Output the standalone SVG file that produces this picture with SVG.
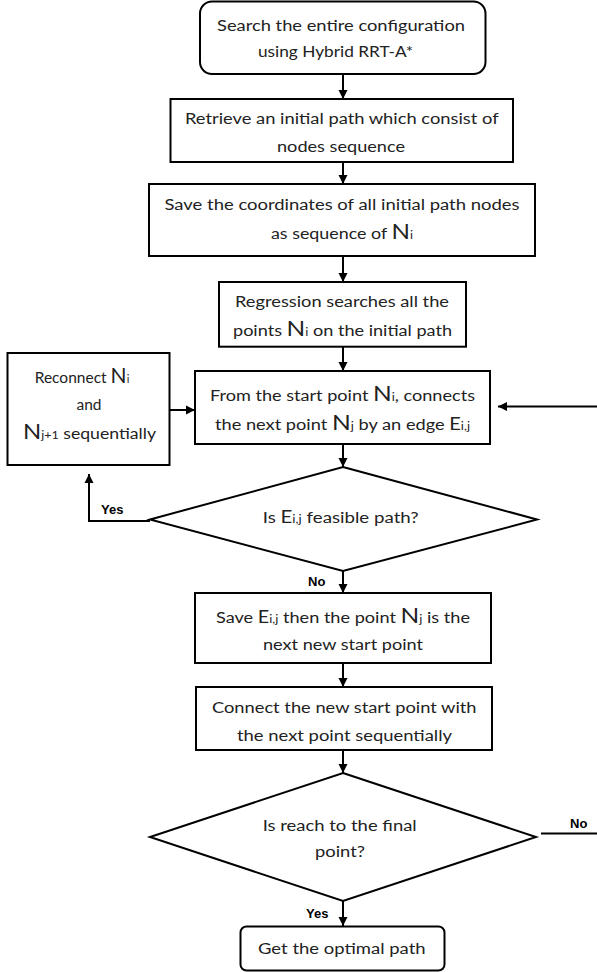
<svg xmlns="http://www.w3.org/2000/svg" width="597" height="972" viewBox="0 0 597 972">
<defs>
<marker id="ah" markerWidth="10" markerHeight="10" refX="9" refY="5" orient="auto" markerUnits="userSpaceOnUse">
<path d="M0,0.5 L9,5 L0,9.5 Z" fill="#000"/>
</marker>
<style>
.box{fill:#fff;stroke:#000;stroke-width:2}
.t{font-family:Lato,"Liberation Sans",sans-serif;font-size:15.5px;fill:#222;text-anchor:middle}
.lb{font-family:"Liberation Sans",Arial,sans-serif;font-size:13px;font-weight:bold;fill:#000}
.big{font-size:21px}
.sub{font-size:11px}
.e{font-size:17px}
.c{fill:none;stroke:#000;stroke-width:2}
</style>
</defs>
<rect width="597" height="972" fill="#fff"/>
<g id="connectors">
<line class="c" x1="343" y1="74" x2="343" y2="99" marker-end="url(#ah)"/>
<line class="c" x1="343" y1="162" x2="343" y2="184" marker-end="url(#ah)"/>
<line class="c" x1="343" y1="256" x2="343" y2="282" marker-end="url(#ah)"/>
<line class="c" x1="343" y1="347" x2="343" y2="371" marker-end="url(#ah)"/>
<line class="c" x1="170" y1="410" x2="195" y2="410" marker-end="url(#ah)"/>
<line class="c" x1="597" y1="406.5" x2="498" y2="406.5" marker-end="url(#ah)"/>
<line class="c" x1="343" y1="444" x2="343" y2="467" marker-end="url(#ah)"/>
<polyline class="c" points="150,521 89,521 89,474" marker-end="url(#ah)"/>
<line class="c" x1="343" y1="571" x2="343" y2="593" marker-end="url(#ah)"/>
<line class="c" x1="343" y1="663" x2="343" y2="687" marker-end="url(#ah)"/>
<line class="c" x1="343" y1="750" x2="343" y2="773" marker-end="url(#ah)"/>
<line class="c" x1="541" y1="833.5" x2="597" y2="833.5"/>
<line class="c" x1="343" y1="901" x2="343" y2="926" marker-end="url(#ah)"/>
<text class="lb" x="101" y="514">Yes</text>
<text class="lb" x="308" y="586">No</text>
<text class="lb" x="570" y="828">No</text>
<text class="lb" x="306" y="918">Yes</text>
</g>
<g id="n1">
<rect class="box" x="200" y="1.5" width="285.5" height="72.5" rx="12"/>
<text class="t" x="341" y="30.7" textLength="248" lengthAdjust="spacingAndGlyphs">Search the entire configuration</text>
<text class="t" x="335.5" y="57" textLength="155" lengthAdjust="spacingAndGlyphs">using Hybrid RRT-A*</text>
</g>
<g id="n2">
<rect class="box" x="170.5" y="99" width="342.5" height="63"/>
<text class="t" x="341.8" y="124" textLength="313.7" lengthAdjust="spacingAndGlyphs">Retrieve an initial path which consist of</text>
<text class="t" x="341" y="151.7" textLength="128" lengthAdjust="spacingAndGlyphs">nodes sequence</text>
</g>
<g id="n3">
<rect class="box" x="149" y="184" width="386" height="72"/>
<text class="t" x="342" y="210" textLength="355" lengthAdjust="spacingAndGlyphs">Save the coordinates of all initial path nodes</text>
<text class="t" x="342" y="239" textLength="142" lengthAdjust="spacingAndGlyphs">as sequence of <tspan class="big">N</tspan><tspan class="sub">i</tspan></text>
</g>
<g id="n4">
<rect class="box" x="219" y="282" width="247" height="64.7"/>
<text class="t" x="342" y="307" textLength="214" lengthAdjust="spacingAndGlyphs">Regression searches all the</text>
<text class="t" x="342.5" y="336" textLength="219" lengthAdjust="spacingAndGlyphs">points <tspan class="big">N</tspan><tspan class="sub">i</tspan> on the initial path</text>
</g>
<g id="n5">
<rect class="box" x="195" y="371" width="295" height="73"/>
<text class="t" x="342.5" y="400.7" textLength="265" lengthAdjust="spacingAndGlyphs">From the start point <tspan class="big">N</tspan><tspan class="sub">i</tspan>, connects</text>
<text class="t" x="342.5" y="430" textLength="255" lengthAdjust="spacingAndGlyphs">the next point <tspan class="big">N</tspan><tspan class="sub">j</tspan> by an edge <tspan class="e">E</tspan><tspan class="sub">i,j</tspan></text>
</g>
<g id="n6">
<rect class="box" x="7.5" y="353" width="162" height="112"/>
<text class="t" x="82" y="383.3">Reconnect <tspan class="big">N</tspan><tspan class="sub">i</tspan></text>
<text class="t" x="89" y="410">and</text>
<text class="t" x="89.5" y="439" textLength="133" lengthAdjust="spacingAndGlyphs"><tspan class="big">N</tspan><tspan class="sub">j+1</tspan> sequentially</text>
</g>
<g id="n7">
<polygon class="box" points="343,467 537,519.5 343,571 150,519.5"/>
<text class="t" x="340.7" y="522.7" textLength="156" lengthAdjust="spacingAndGlyphs">Is <tspan class="e">E</tspan><tspan class="sub">i,j</tspan> feasible path?</text>
</g>
<g id="n8">
<rect class="box" x="195" y="593" width="296" height="70"/>
<text class="t" x="343" y="622.7" textLength="254" lengthAdjust="spacingAndGlyphs">Save <tspan class="e">E</tspan><tspan class="sub">i,j</tspan> then the point <tspan class="big">N</tspan><tspan class="sub">j</tspan> is the</text>
<text class="t" x="343" y="650" textLength="160" lengthAdjust="spacingAndGlyphs">next new start point</text>
</g>
<g id="n9">
<rect class="box" x="196" y="687" width="296" height="63"/>
<text class="t" x="344.3" y="713" textLength="264.6" lengthAdjust="spacingAndGlyphs">Connect the new start point with</text>
<text class="t" x="344.5" y="740.7" textLength="215" lengthAdjust="spacingAndGlyphs">the next point sequentially</text>
</g>
<g id="n10">
<polygon class="box" points="343,773 536,837 343,901 150,837"/>
<text class="t" x="339.7" y="830.7" textLength="154" lengthAdjust="spacingAndGlyphs">Is reach to the final</text>
<text class="t" x="340" y="857" textLength="50" lengthAdjust="spacingAndGlyphs">point?</text>
</g>
<g id="n11">
<rect class="box" x="240.5" y="926.5" width="204" height="44" rx="6"/>
<text class="t" x="341.8" y="954" textLength="167.6" lengthAdjust="spacingAndGlyphs">Get the optimal path</text>
</g>
</svg>
